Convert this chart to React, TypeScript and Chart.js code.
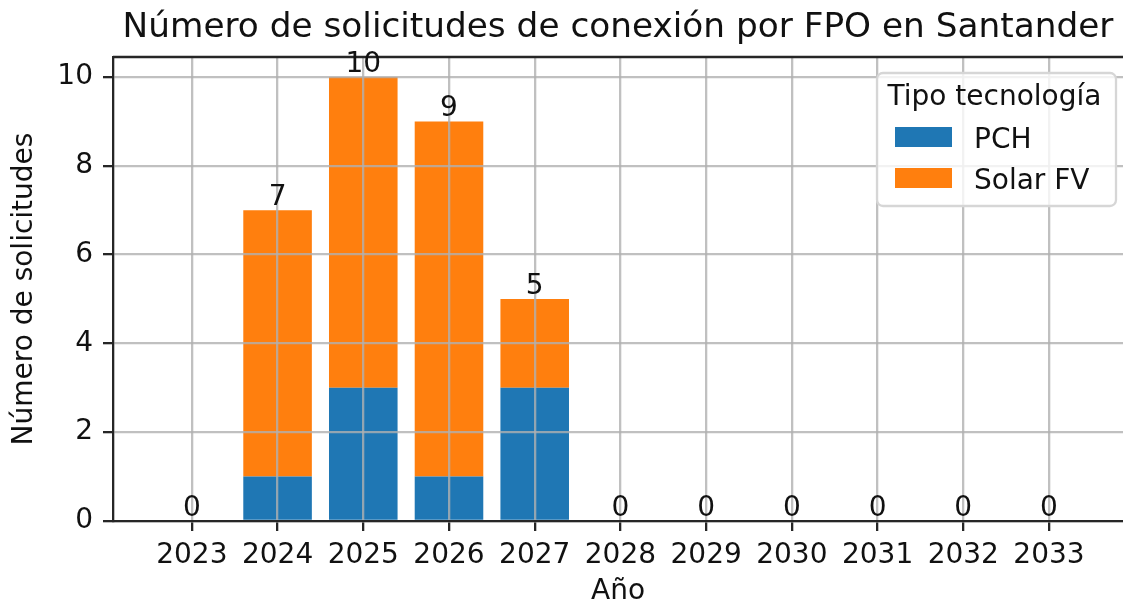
import React, { useEffect, useRef } from 'react';
import { Chart, registerables } from 'chart.js';

Chart.register(...registerables);

const years = ['2023', '2024', '2025', '2026', '2027', '2028', '2029', '2030', '2031', '2032', '2033'];
const pchValues = [0, 1, 3, 1, 3, 0, 0, 0, 0, 0, 0];
const solarValues = [0, 6, 7, 8, 2, 0, 0, 0, 0, 0, 0];
const seriesLabels = ['PCH', 'Solar FV'];
const seriesColors = ['#1f77b4', '#ff7f0e'];
const yTickValues = [0, 2, 4, 6, 8, 10];
const chartTitle = 'Número de solicitudes de conexión por FPO en Santander';
const xAxisTitle = 'Año';
const yAxisTitle = 'Número de solicitudes';
const legendTitle = 'Tipo tecnología';

const FONT = '"DejaVu Sans", "Liberation Sans", sans-serif';
const DARK = '#262626';
const GRID = 'rgba(176,176,176,0.8)';

const overlayPlugin = {
  id: 'overlay',
  afterDraw(chart: any) {
    const { ctx, chartArea: a, scales } = chart;
    const x = scales.x;
    const y = scales.y;
    ctx.save();

    // top spine
    ctx.strokeStyle = DARK;
    ctx.lineWidth = 2.3;
    ctx.beginPath();
    ctx.moveTo(a.left, a.top);
    ctx.lineTo(a.right + 10, a.top);
    ctx.stroke();

    // title
    ctx.fillStyle = '#111';
    ctx.font = `34.3px ${FONT}`;
    ctx.textAlign = 'center';
    ctx.textBaseline = 'alphabetic';
    ctx.fillText(chartTitle, (a.left + a.right) / 2, 37);

    // bar total labels
    ctx.font = `28px ${FONT}`;
    ctx.fillStyle = '#111';
    years.forEach((_, i) => {
      const total = pchValues[i] + solarValues[i];
      const px = x.getPixelForValue(i);
      const py = y.getPixelForValue(total);
      ctx.fillText(String(total), px, py - 5);
    });

    // legend
    const bx = 877;
    const by = 73;
    const bw = 239;
    const bh = 133;
    ctx.beginPath();
    ctx.roundRect(bx, by, bw, bh, 6);
    ctx.fillStyle = 'rgba(255,255,255,0.8)';
    ctx.fill();
    ctx.strokeStyle = '#d6d6d6';
    ctx.lineWidth = 2.3;
    ctx.stroke();

    ctx.fillStyle = '#111';
    ctx.textAlign = 'center';
    ctx.fillText(legendTitle, bx + bw / 2 - 2, 105);

    const rowsY = [127, 168];
    seriesLabels.forEach((label, i) => {
      ctx.fillStyle = seriesColors[i];
      ctx.fillRect(895, rowsY[i], 57, 20);
      ctx.fillStyle = '#111';
      ctx.textAlign = 'left';
      ctx.fillText(label, 974, rowsY[i] + 21);
    });

    ctx.restore();
  },
};

export default function App() {
  const canvasRef = useRef<HTMLCanvasElement | null>(null);

  useEffect(() => {
    document.body.style.margin = '0';
    document.body.style.overflow = 'hidden';
    const canvas = canvasRef.current;
    if (!canvas) return;

    const chart = new Chart(canvas, {
      type: 'bar',
      data: {
        datasets: [
          {
            label: seriesLabels[0],
            data: pchValues.map((v, i) => ({ x: i, y: v })),
            backgroundColor: seriesColors[0],
            borderWidth: 0,
            categoryPercentage: 0.8,
            barPercentage: 1.0,
          },
          {
            label: seriesLabels[1],
            data: solarValues.map((v, i) => ({ x: i, y: v })),
            backgroundColor: seriesColors[1],
            borderWidth: 0,
            categoryPercentage: 0.8,
            barPercentage: 1.0,
          },
        ],
      },
      options: {
        responsive: false,
        animation: false,
        devicePixelRatio: 1,
        layout: { padding: { top: 57, right: 0, bottom: 0, left: 0 } },
        plugins: {
          legend: { display: false },
          title: { display: false },
          tooltip: { enabled: false },
        },
        scales: {
          x: {
            type: 'linear',
            stacked: true,
            min: -0.92,
            max: (1123 - 192) / 85.7,
            offset: false,
            afterBuildTicks: (s: any) => {
              s.ticks = years.map((_, i) => ({ value: i }));
            },
            afterFit: (s: any) => {
              s.height = 83;
            },
            ticks: {
              autoSkip: false,
              maxRotation: 0,
              padding: 8,
              color: '#111',
              font: { family: FONT, size: 28 },
              callback: (v: any) => years[v] ?? '',
            },
            grid: {
              offset: false,
              z: 1,
              color: GRID,
              lineWidth: 2.3,
              drawTicks: true,
              tickLength: 10,
              tickColor: DARK,
              tickWidth: 2.3,
            },
            border: { display: true, color: DARK, width: 2.3, z: 2 },
            title: {
              display: true,
              text: xAxisTitle,
              color: '#111',
              font: { family: FONT, size: 28 },
              padding: { top: 0, bottom: -5 },
            },
          },
          y: {
            type: 'linear',
            stacked: true,
            min: 0,
            max: 10.45,
            afterBuildTicks: (s: any) => {
              s.ticks = yTickValues.map((v) => ({ value: v }));
            },
            afterFit: (s: any) => {
              s.width = 113;
            },
            ticks: {
              padding: 10,
              color: '#111',
              font: { family: FONT, size: 28 },
            },
            grid: {
              z: 1,
              color: GRID,
              lineWidth: 2.3,
              drawTicks: true,
              tickLength: 10,
              tickColor: DARK,
              tickWidth: 2.3,
            },
            border: { display: true, color: DARK, width: 2.3, z: 2 },
            title: {
              display: true,
              text: yAxisTitle,
              color: '#111',
              font: { family: FONT, size: 28 },
              padding: { top: 8, bottom: 0 },
            },
          },
        },
      },
      plugins: [overlayPlugin],
    });

    return () => chart.destroy();
  }, []);

  return <canvas ref={canvasRef} width={1123} height={604} style={{ display: 'block' }} />;
}
